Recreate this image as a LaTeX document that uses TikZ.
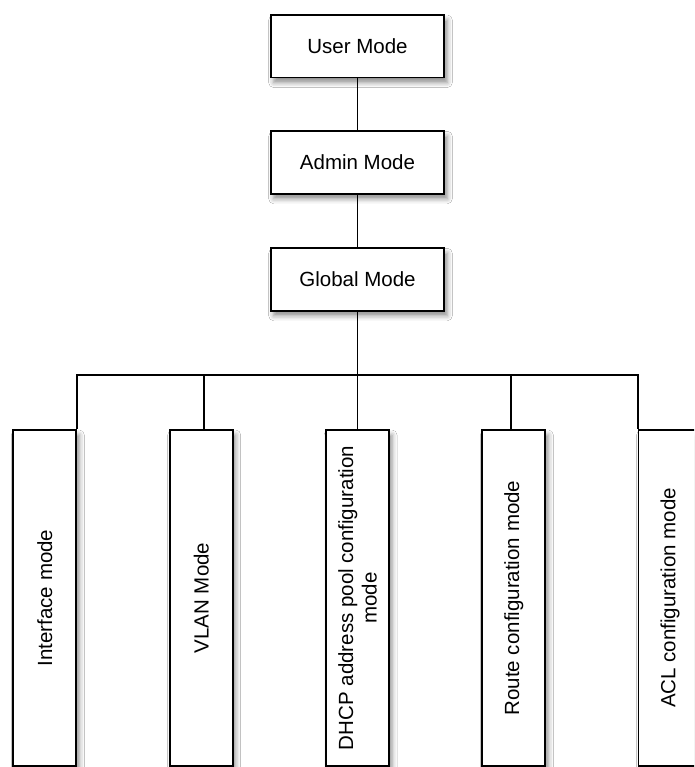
\documentclass[tikz,border=0pt]{standalone}
\usepackage{fontspec}
\setmainfont{Liberation Sans}
\usetikzlibrary{shadows.blur}
\tikzset{
  modebox/.style={draw=black, line width=1.7pt, fill=white, inner sep=0pt,
    blur shadow={shadow xshift=3pt, shadow yshift=-5pt, shadow blur radius=5pt, shadow opacity=45}},
  topbox/.style={modebox, minimum width=173.6pt, minimum height=62.5pt},
  bottombox/.style={modebox, minimum width=63pt, minimum height=336pt},
  vlabel/.style={rotate=90, inner sep=0pt, align=center},
  link/.style={draw=black, line width=1.6pt},
}
\begin{document}
\begin{tikzpicture}[x=1pt,y=-1pt,font=\fontsize{20.5}{23.5}\selectfont]
\useasboundingbox (0,0) rectangle (694,767);
\clip (0,0) rectangle (694,767);
\fill[white] (0,0) rectangle (694,767);
% top boxes
\node[topbox] (user) at (357.5,46.3) {User Mode};
\node[topbox] (admin) at (357.5,162.5) {Admin Mode};
\node[topbox] (global) at (357.5,279.5) {Global Mode};
% bottom boxes
\node[bottombox] (b1) at (44.8,598) {};
\node[bottombox] (b2) at (201.2,598) {};
\node[bottombox] (b3) at (357.5,598) {};
\node[bottombox] (b4) at (513.8,598) {};
\node[bottombox] (b5) at (670.1,598) {};
\node[vlabel] (t1) at (b1) {Interface mode};
\node[vlabel] (t2) at (b2) {VLAN Mode};
\node[vlabel] (t3) at (b3) {DHCP address pool configuration\\mode};
\node[vlabel] (t4) at (b4) {Route configuration mode};
\node[vlabel] (t5) at (b5) {ACL configuration mode};
% connectors
\coordinate (j) at (357.5,375);
\draw[link] (user) -- (admin);
\draw[link] (admin) -- (global);
\draw[link] (global) -- (j);
\draw[link] (j) -| (b1.north east);
\draw[link] (j) -| (b5.north west);
\draw[link] (j) -| ([xshift=3pt]b2.north);
\draw[link] (j) -- (b3.north);
\draw[link] (j) -| ([xshift=-3pt]b4.north);
\end{tikzpicture}
\end{document}
